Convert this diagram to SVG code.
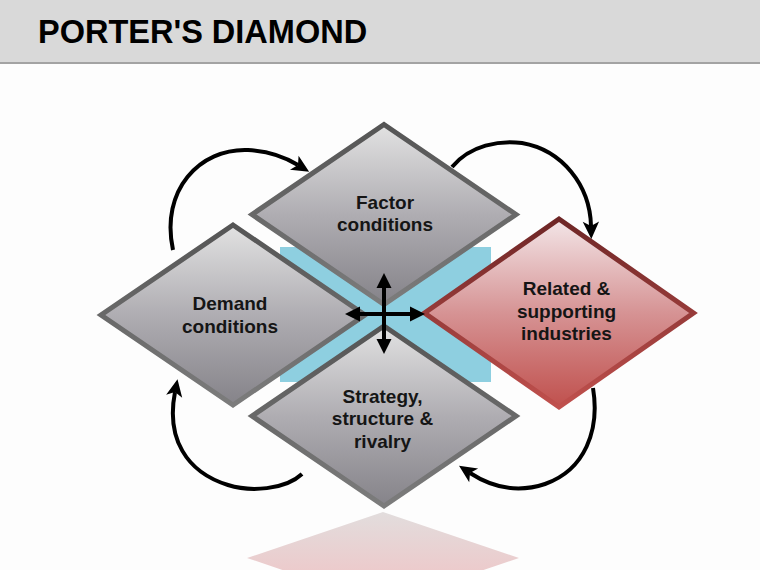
<svg xmlns="http://www.w3.org/2000/svg" width="760" height="570" viewBox="0 0 760 570">
  <defs>
    <style>
      .title { font-family: "Liberation Sans", Arial, sans-serif; font-weight: bold; font-size: 32.5px; fill: #000; }
      .lbl { font-family: "Liberation Sans", Arial, sans-serif; font-weight: bold; font-size: 19px; fill: #151515; text-anchor: middle; }
      .gray { fill: url(#gGray); stroke: url(#gGrayStroke); stroke-width: 5; stroke-linejoin: miter; }
      .red { fill: url(#gRed); stroke: url(#gRedStroke); stroke-width: 5; stroke-linejoin: miter; }
      .cycle { fill: none; stroke: #000; stroke-width: 4; marker-end: url(#head); }
      .cross { fill: none; stroke: #000; stroke-width: 4; marker-start: url(#tri); marker-end: url(#tri); }
    </style>
    <linearGradient id="gGray" x1="0" y1="0" x2="0" y2="1">
      <stop offset="0" stop-color="#e2e2e2"/>
      <stop offset="0.5" stop-color="#afadb2"/>
      <stop offset="1" stop-color="#858389"/>
    </linearGradient>
    <linearGradient id="gGrayStroke" x1="0" y1="0" x2="0" y2="1">
      <stop offset="0" stop-color="#555555"/>
      <stop offset="1" stop-color="#7c7c7c"/>
    </linearGradient>
    <linearGradient id="gRed" x1="0" y1="0" x2="0" y2="1">
      <stop offset="0" stop-color="#f3e6e8"/>
      <stop offset="0.5" stop-color="#d69394"/>
      <stop offset="1" stop-color="#c0504d"/>
    </linearGradient>
    <linearGradient id="gRedStroke" x1="0" y1="0" x2="0" y2="1">
      <stop offset="0" stop-color="#6e2626"/>
      <stop offset="1" stop-color="#c0504d"/>
    </linearGradient>
    <linearGradient id="gRefl" gradientUnits="userSpaceOnUse" x1="0" y1="512" x2="0" y2="570">
      <stop offset="0" stop-color="#e2dddd"/>
      <stop offset="1" stop-color="#eccbcc"/>
    </linearGradient>
    <marker id="head" markerUnits="userSpaceOnUse" markerWidth="24" markerHeight="24" viewBox="-2 -10 22 20" refX="4" refY="0" orient="auto">
      <path d="M0,-7.5 L16,0 L0,7.5 L4,0 z" fill="#000"/>
    </marker>
    <marker id="tri" markerUnits="userSpaceOnUse" markerWidth="20" markerHeight="20" viewBox="-2 -10 20 20" refX="2" refY="0" orient="auto-start-reverse">
      <path d="M0,-7.5 L15,0 L0,7.5 z" fill="#000"/>
    </marker>
  </defs>

  <rect x="0" y="0" width="760" height="570" fill="#fdfdfd"/>

  <g id="title-bar">
    <rect x="0" y="0" width="760" height="62" fill="#d9d9d9"/>
    <rect x="0" y="62" width="760" height="2" fill="#a3a3a3"/>
    <text class="title" x="38" y="43">PORTER'S DIAMOND</text>
  </g>

  <g id="reflection">
    <polygon points="383,512 519,558 383,604 247,558" fill="url(#gRefl)"/>
  </g>

  <g id="center-band">
    <rect x="280" y="247" width="211" height="135" fill="#8ecfe0"/>
  </g>

  <g id="factor-conditions">
    <polygon class="gray" points="384,124.5 516,214.5 384,304.5 252,214.5"/>
    <text class="lbl" x="385" y="209">Factor</text>
    <text class="lbl" x="385" y="230.5">conditions</text>
  </g>

  <g id="demand-conditions">
    <polygon class="gray" points="233,225 365,315 233,405 101,315"/>
    <text class="lbl" x="230" y="310">Demand</text>
    <text class="lbl" x="230" y="332.5">conditions</text>
  </g>

  <g id="strategy-structure-rivalry">
    <polygon class="gray" points="384,326 516,416 384,506 252,416"/>
    <text class="lbl" x="382.5" y="402.5">Strategy,</text>
    <text class="lbl" x="382.5" y="425">structure &amp;</text>
    <text class="lbl" x="382.5" y="447.5">rivalry</text>
  </g>

  <g id="related-supporting-industries">
    <polygon class="red" points="559,219 693.5,313 559,407 424.5,313"/>
    <text class="lbl" x="566.5" y="295">Related &amp;</text>
    <text class="lbl" x="566.5" y="317.5">supporting</text>
    <text class="lbl" x="566.5" y="340">industries</text>
  </g>

  <g id="connectors">
    <path class="cycle" d="M173,250 C160,190 200,148 248,150 C268,151 285,157 298,165"/>
    <path class="cycle" d="M452,167 C470,145 500,140 522,143 C562,150 590,185 591,226"/>
    <path class="cycle" d="M593,388 C600,430 585,470 545,484 C515,494 490,486 470,473"/>
    <path class="cycle" d="M302,474 C285,490 250,492 228,485 C186,472 166,438 175,392"/>
    <path class="cross" d="M384,286 L384,341"/>
    <path class="cross" d="M358,314 L412,314"/>
  </g>
</svg>
